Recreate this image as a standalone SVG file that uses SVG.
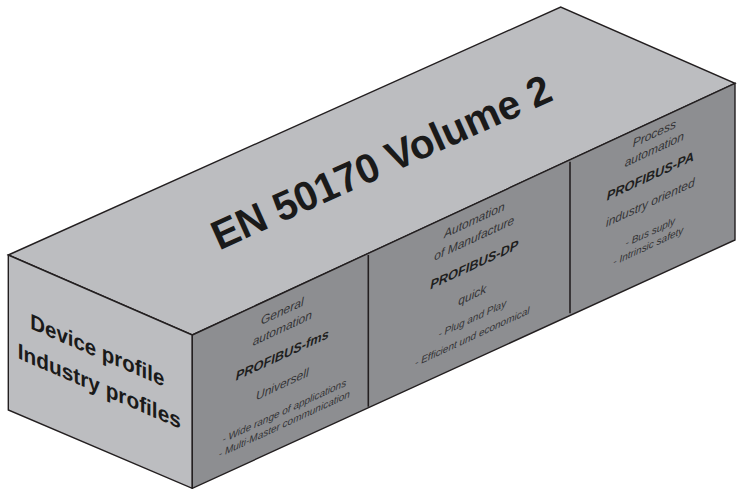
<svg xmlns="http://www.w3.org/2000/svg" width="740" height="489" viewBox="0 0 740 489">
<style>
.face{stroke:#231f20;stroke-width:1.4;stroke-linejoin:miter}
.light{fill:#bcbdc0}
.dark{fill:#8d8e91}
.div{stroke:#231f20;stroke-width:1.6}
.t{font-family:"Liberation Sans",Arial,sans-serif;text-anchor:middle}
.big{font-weight:bold;fill:#1a1a1a}
.it{font-style:italic;fill:#333335;font-size:12px}
.itb{font-style:italic;font-weight:bold;fill:#1e1e1e;font-size:12.8px}
.sm{font-style:italic;fill:#333335;font-size:10px}
</style>
<rect width="740" height="489" fill="#ffffff"/>
<g id="top-face">
<polygon class="face light" points="8.3,255 560.7,7 735,83.3 192.3,335"/>
<text class="t big" font-size="41" textLength="368" lengthAdjust="spacingAndGlyphs" transform="translate(387,175) rotate(-24.2)">EN 50170 Volume 2</text>
</g>
<g id="left-face">
<polygon class="face light" points="8.3,255 192.3,335 192.3,488.3 8.3,410"/>
<g transform="translate(8.3,255) skewY(23.5)">
<text class="t big" font-size="22" x="89" y="64" textLength="134" lengthAdjust="spacingAndGlyphs">Device profile</text>
<text class="t big" font-size="22" x="91" y="99" textLength="163" lengthAdjust="spacingAndGlyphs">Industry profiles</text>
</g>
</g>
<g id="front-face">
<polygon class="face dark" points="192.3,335 735,83.3 735,240 192.3,488.3"/>
<line class="div" x1="368.3" y1="255" x2="368.3" y2="406.7"/>
<line class="div" x1="570" y1="161.7" x2="570" y2="313.3"/>
</g>
<g id="fms" transform="translate(192.3,335) skewY(-24.9)">
<text class="t it" x="90" y="22">General</text>
<text class="t it" x="90" y="39">automation</text>
<text class="t itb" x="90" y="66">PROFIBUS-fms</text>
<text class="t it" font-size="12.5" x="90" y="95">Universell</text>
<text class="t sm" x="92" y="122">- Wide range of applications</text>
<text class="t sm" x="92" y="135">- Multi-Master communication</text>
</g>
<g id="dp" transform="translate(192.3,335) skewY(-24.9)">
<text class="t it" x="282" y="20">Automation</text>
<text class="t it" x="282" y="38">of Manufacture</text>
<text class="t itb" x="282" y="65">PROFIBUS-DP</text>
<text class="t it" font-size="12.5" x="280" y="94">quick</text>
<text class="t sm" x="280" y="117">- Plug and Play</text>
<text class="t sm" x="280" y="135">- Efficient und economical</text>
</g>
<g id="pa" transform="translate(192.3,335) skewY(-24.9)">
<text class="t it" x="462" y="17">Process</text>
<text class="t it" x="462" y="33">automation</text>
<text class="t itb" x="458" y="58">PROFIBUS-PA</text>
<text class="t it" font-size="12.5" x="458" y="84">industry oriented</text>
<text class="t sm" x="458" y="113">- Bus suply</text>
<text class="t sm" x="456" y="126">- Intrinsic safety</text>
</g>
</svg>
